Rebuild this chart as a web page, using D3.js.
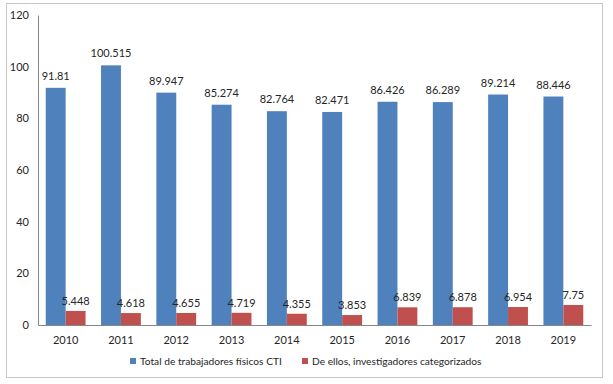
<!DOCTYPE html>
<html>
<head>
<meta charset="utf-8">
<script src="https://cdn.jsdelivr.net/npm/d3@7"></script>
<style>
body { margin: 0; background: #fff; }
text { font-family: "Lato", "Liberation Sans", sans-serif; fill: #262626; }
</style>
</head>
<body>
<svg id="chart"></svg>
<script>
var width = 613;
var height = 384;
var margin = {top: 15, right: 22, bottom: 59, left: 38};
var w = width - margin.left - margin.right;
var h = height - margin.top - margin.bottom;

var years = ["2010", "2011", "2012", "2013", "2014", "2015", "2016", "2017", "2018", "2019"];
var totalCTI = [91.81, 100.515, 89.947, 85.274, 82.764, 82.471, 86.426, 86.289, 89.214, 88.446];
var investigadores = [5.448, 4.618, 4.655, 4.719, 4.355, 3.853, 6.839, 6.878, 6.954, 7.75];
var yTicks = [0, 20, 40, 60, 80, 100, 120];
var seriesNames = ["Total de trabajadores físicos CTI", "De ellos, investigadores categorizados"];
var colors = ["#4f81bd", "#c0504d"];

var svg = d3.select("#chart")
    .attr("width", width)
    .attr("height", height);

// outer frame
svg.append("rect")
    .attr("x", 6.5).attr("y", 3.5)
    .attr("width", 596).attr("height", 374)
    .attr("fill", "#fff")
    .attr("stroke", "#c8c8c8");

var chart = svg.append("g")
    .attr("transform", "translate(" + margin.left + "," + margin.top + ")");

var x = d3.scaleBand()
    .domain(years)
    .range([0, w]);

var x1 = d3.scaleBand()
    .domain([0, 1])
    .range([x.bandwidth() * 0.14, x.bandwidth() * 0.86]);

var y = d3.scaleLinear()
    .domain([0, 120])
    .range([h, 0]);

// y axis
var yAxis = d3.axisLeft(y).tickValues(yTicks).tickSize(0).tickPadding(9);
chart.append("g")
    .call(yAxis)
    .call(function(g) {
        g.select(".domain").attr("stroke", "#868686");
        g.selectAll("text").style("font-size", "11px").attr("fill", "#262626");
    });

var xAxis = d3.axisBottom(x).tickSize(0).tickPadding(11);
chart.append("g")
    .attr("transform", "translate(0," + h + ")")
    .call(xAxis)
    .call(function(g) {
        g.select(".domain").attr("stroke", "#868686");
        g.selectAll("text").style("font-size", "11px").attr("fill", "#262626");
    });

var series = [totalCTI, investigadores];

for (var s = 0; s < series.length; s++) {
    var grp = chart.append("g");
    grp.selectAll("rect")
        .data(series[s])
        .enter().append("rect")
        .attr("x", function(d, i) { return x(years[i]) + x1(s); })
        .attr("y", function(d) { return y(d); })
        .attr("width", x1.bandwidth())
        .attr("height", function(d) { return h - y(d); })
        .attr("fill", colors[s]);

    grp.selectAll("text")
        .data(series[s])
        .enter().append("text")
        .attr("x", function(d, i) { return x(years[i]) + x1(s) + x1.bandwidth() / 2; })
        .attr("y", function(d) { return y(d) - (s == 0 ? 8 : 6); })
        .attr("text-anchor", "middle")
        .style("font-size", "11px")
        .text(function(d) { return d; });
}

// legend
var legendX = [130, 302];
var legend = svg.append("g");
for (var i = 0; i < seriesNames.length; i++) {
    legend.append("rect")
        .attr("x", legendX[i]).attr("y", 358)
        .attr("width", 6).attr("height", 6)
        .attr("fill", colors[i]);
    legend.append("text")
        .attr("x", legendX[i] + 10).attr("y", 365)
        .style("font-size", "10.2px")
        .text(seriesNames[i]);
}
</script>
</body>
</html>
